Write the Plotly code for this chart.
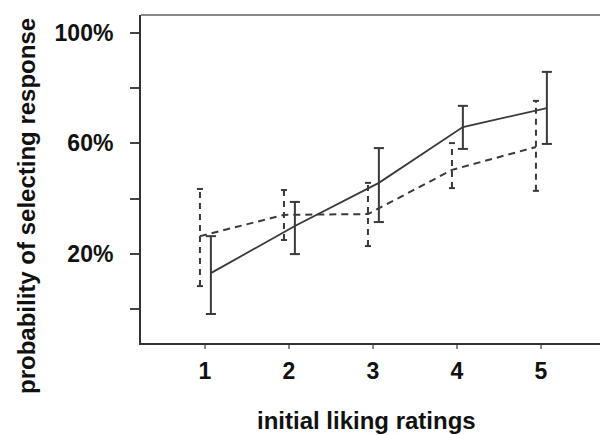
import plotly.graph_objects as go

ratings = [1, 2, 3, 4, 5]
# solid series (percent)
solid_mean = [13.0, 30.1, 45.7, 65.9, 72.8]
solid_upper = [26.4, 38.8, 58.3, 73.6, 85.9]
solid_lower = [-1.8, 19.9, 31.5, 58.0, 59.8]
# dashed series (percent)
dash_mean = [26.4, 34.1, 34.4, 50.4, 58.7]
dash_upper = [43.5, 43.1, 45.7, 60.1, 75.4]
dash_lower = [8.3, 25.0, 22.8, 43.8, 42.8]

y_tickvals = [0, 20, 40, 60, 80, 100]
y_ticktext = ["", "20%", "", "60%", "", "100%"]
x_ticktext = ["1", "2", "3", "4", "5"]

COL = "#3a3a3a"
FAM = "Liberation Sans, Arial, sans-serif"
TICKFONT = dict(family=FAM, size=23, color="#111", weight="bold")
TITLEFONT = dict(family=FAM, size=24, color="#111", weight="bold")


def err_traces(xs, lo, hi, offset, cap, dash, width):
    vx, vy, cx, cy = [], [], [], []
    for x, l, h in zip(xs, lo, hi):
        xo = x + offset
        vx += [xo, xo, None]
        vy += [l, h, None]
        for v in (l, h):
            cx += [xo - cap, xo + cap, None]
            cy += [v, v, None]
    return [
        go.Scatter(x=vx, y=vy, mode="lines", line=dict(color=COL, width=width, dash=dash),
                   hoverinfo="skip", showlegend=False),
        go.Scatter(x=cx, y=cy, mode="lines", line=dict(color=COL, width=width),
                   hoverinfo="skip", showlegend=False),
    ]


fig = go.Figure()
off_s, off_d = 0.07, -0.06
fig.add_trace(go.Scatter(x=[r + off_d for r in ratings], y=dash_mean, mode="lines",
                         line=dict(color=COL, width=2, dash="7px,5px"), showlegend=False))
for t in err_traces(ratings, dash_lower, dash_upper, off_d, 0.036, "6px,5px", 2):
    fig.add_trace(t)
fig.add_trace(go.Scatter(x=[r + off_s for r in ratings], y=solid_mean, mode="lines",
                         line=dict(color=COL, width=1.8), showlegend=False))
for t in err_traces(ratings, solid_lower, solid_upper, off_s, 0.06, None, 2):
    fig.add_trace(t)

fig.update_layout(
    width=600, height=427,
    margin=dict(l=133, r=2, t=7, b=92),
    paper_bgcolor="white", plot_bgcolor="white",
    font=TICKFONT,
    xaxis=dict(range=[0.238, 5.774], tickvals=ratings, ticktext=x_ticktext,
               showgrid=False, zeroline=False, showline=True, linecolor="#333", linewidth=2,
               ticks="outside", ticklen=4, tickcolor="#888", tickwidth=2,
               ticklabelstandoff=2, tickfont=TICKFONT),
    yaxis=dict(range=[-12.3, 106.5], tickvals=y_tickvals, ticktext=y_ticktext,
               showgrid=False, zeroline=False, showline=True, linecolor="#333", linewidth=2,
               ticks="outside", ticklen=9, tickcolor="#444", tickwidth=2,
               ticklabelstandoff=12, tickfont=TICKFONT),
    shapes=[
        dict(type="line", xref="paper", yref="paper", x0=0, x1=1, y0=1, y1=1,
             line=dict(color="#888", width=2)),
        dict(type="line", xref="paper", yref="paper", x0=1, x1=1, y0=0, y1=1,
             line=dict(color="#888", width=2)),
    ],
    annotations=[
        dict(text="initial liking ratings", xref="paper", yref="paper", x=0.486, y=-0.236,
             showarrow=False, xanchor="center", yanchor="middle", font=TITLEFONT),
        dict(text="probability of selecting response", xref="paper", yref="paper",
             x=-0.245, y=0.418, textangle=-90, showarrow=False,
             xanchor="center", yanchor="middle", font=TITLEFONT),
    ],
)

fig.write_html("out.html")
